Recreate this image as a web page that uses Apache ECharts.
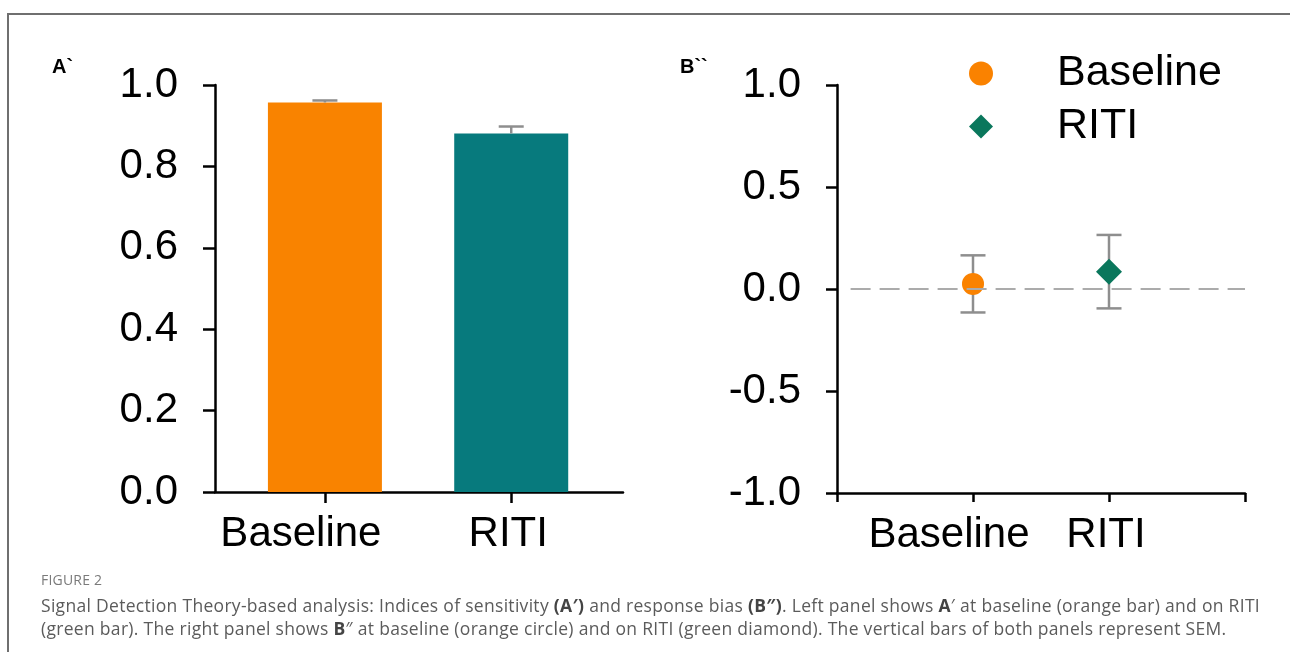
<!DOCTYPE html>
<html>
<head>
<meta charset="utf-8">
<script src="https://cdn.jsdelivr.net/npm/echarts@6/dist/echarts.min.js"></script>
<style>
html, body { margin: 0; padding: 0; background: #fff; }
#frame { position: absolute; left: 7px; top: 13px; width: 1290px; height: 637px;
         border-top: 2px solid #6f6f6f; border-left: 2px solid #6f6f6f; }
#chart { position: absolute; left: 0; top: 0; width: 1290px; height: 655px; }
#cap { position: absolute; left: 41px; top: 568px; font-family: "Open Sans", Lato, sans-serif;
       color: #5b5b5b; font-size: 17.5px; letter-spacing: 0.3px; line-height: 23px; white-space: nowrap; }
#cap .fig { font-size: 14px; color: #7a7a7a; letter-spacing: 0.2px; margin-bottom: 3px; }
#cap b { color: #444; }
</style>
</head>
<body>
<div id="frame"></div>
<div id="chart"></div>
<div id="cap">
  <div class="fig">FIGURE 2</div>
  <div>Signal Detection Theory-based analysis: Indices of sensitivity <b>(A′)</b> and response bias <b>(B″)</b>. Left panel shows <b>A</b>′ at baseline (orange bar) and on RITI</div>
  <div>(green bar). The right panel shows <b>B</b>″ at baseline (orange circle) and on RITI (green diamond). The vertical bars of both panels represent SEM.</div>
</div>
<script>
var categories = ['Baseline', 'RITI'];
// panel A' : sensitivity (bars + SEM)
var sensMean = [0.957, 0.881];
var sensSem = [0.005, 0.017];
var sensTicks = [0, 0.2, 0.4, 0.6, 0.8, 1.0];
// panel B'' : response bias (points + SEM)
var biasMean = [0.025, 0.085];
var biasSem = [0.14, 0.18];
var biasTicks = [-1.0, -0.5, 0, 0.5, 1.0];

var barColors = ['#f98300', '#077a7d'];
var pointColors = ['#fa8200', '#0a775c'];
var symbols = ['circle', 'diamond'];
var axisFont = '"Liberation Sans", Arial, sans-serif';
var errColor = '#8e8e8e';

var chart = echarts.init(document.getElementById('chart'));

function errorBar(bothSides) {
	return function (params, api) {
		var x = api.value(0);
		var lo = api.coord([x, api.value(1)]);
		var hi = api.coord([x, api.value(2)]);
		var st = { stroke: errColor, lineWidth: 2.5 };
		var kids = [
			{ type: 'line', shape: { x1: hi[0], y1: hi[1], x2: lo[0], y2: lo[1] }, style: st },
			{ type: 'line', shape: { x1: hi[0] - 12.5, y1: hi[1], x2: hi[0] + 12.5, y2: hi[1] }, style: st }
		];
		if (bothSides) {
			kids.push({ type: 'line', shape: { x1: lo[0] - 12.5, y1: lo[1], x2: lo[0] + 12.5, y2: lo[1] }, style: st });
		}
		return { type: 'group', children: kids };
	};
}

function catLabel(v) {
	var i = Math.round(v) - 1;
	return '{c' + i + '|' + categories[i] + '}';
}
var catRich = {
	c0: { fontSize: 42, fontFamily: axisFont, color: '#000', padding: [0, 48, 0, 0] },
	c1: { fontSize: 42, fontFamily: axisFont, color: '#000', padding: [0, 6, 0, 0] }
};

var axisLineStyle = { color: '#000', width: 2.5 };

var sensBars = sensMean.map(function (m, i) {
	return { value: [i + 1, m], itemStyle: { color: barColors[i] } };
});
var sensErr = sensMean.map(function (m, i) { return [i + 1, m, m + sensSem[i]]; });
var biasErr = biasMean.map(function (m, i) { return [i + 1, m - biasSem[i], m + biasSem[i]]; });

var pointSeries = categories.map(function (name, i) {
	return {
		name: name,
		type: 'scatter',
		xAxisIndex: 1,
		yAxisIndex: 1,
		symbol: symbols[i],
		symbolSize: i === 0 ? 22 : 26,
		itemStyle: { color: pointColors[i], opacity: 1 },
		z: 5,
		data: [[i + 1, biasMean[i]]]
	};
});
pointSeries[0].markLine = {
	silent: true,
	symbol: 'none',
	label: { show: false },
	lineStyle: { type: [20, 9], color: '#ababab', width: 2 },
	data: [[{ coord: [0.1, 0] }, { coord: [3, 0] }]],
	z: 6
};

var option = {
	animation: false,
	textStyle: { fontFamily: axisFont },
	grid: [
		{ left: 215, top: 85, width: 408, height: 407 },
		{ left: 837, top: 85, width: 408, height: 408 }
	],
	legend: {
		data: [
			{ name: categories[0], icon: 'circle' },
			{ name: categories[1], icon: 'diamond' }
		],
		orient: 'vertical',
		left: 964,
		top: 47,
		itemWidth: 24,
		itemHeight: 24,
		itemGap: 10,
		selectedMode: false,
		formatter: function (name) { return '{t|' + name + '}'; },
		textStyle: {
			rich: { t: { fontSize: 43, fontFamily: axisFont, color: '#000', lineHeight: 44, padding: [0, 0, 0, 59] } }
		}
	},
	xAxis: [
		{
			type: 'value', gridIndex: 0, min: 0.41, max: 2.6,
			axisLine: { onZero: false, lineStyle: axisLineStyle },
			axisTick: { show: true, customValues: [1, 2], length: 11, lineStyle: axisLineStyle },
			axisLabel: { customValues: [1, 2], formatter: catLabel, rich: catRich, margin: 21 },
			splitLine: { show: false }
		},
		{
			type: 'value', gridIndex: 1, min: 0, max: 3, interval: 1,
			axisLine: { onZero: false, lineStyle: axisLineStyle },
			axisTick: { show: true, customValues: [0, 1, 2, 3], length: 9, lineStyle: axisLineStyle },
			axisLabel: { customValues: [1, 2], formatter: catLabel, rich: catRich, margin: 21 },
			splitLine: { show: false }
		}
	],
	yAxis: [
		{
			type: 'value', gridIndex: 0,
			min: sensTicks[0], max: sensTicks[sensTicks.length - 1], interval: sensTicks[1] - sensTicks[0],
			axisLine: { show: true, onZero: false, lineStyle: axisLineStyle },
			axisTick: { show: true, length: 12, lineStyle: axisLineStyle },
			axisLabel: { fontSize: 42, color: '#000', margin: 37, formatter: function (v) { return v.toFixed(1); } },
			splitLine: { show: false }
		},
		{
			type: 'value', gridIndex: 1,
			min: biasTicks[0], max: biasTicks[biasTicks.length - 1], interval: biasTicks[1] - biasTicks[0],
			axisLine: { show: true, onZero: false, lineStyle: axisLineStyle },
			axisTick: { show: true, length: 11, lineStyle: axisLineStyle },
			axisLabel: { fontSize: 42, color: '#000', margin: 36, formatter: function (v) { return v.toFixed(1); } },
			splitLine: { show: false }
		}
	],
	graphic: [
		{ type: 'text', left: 52, top: 57, style: { text: 'A`', font: 'bold 20px "Liberation Sans", Arial', fill: '#000' } },
		{ type: 'text', left: 680, top: 57, style: { text: 'B``', font: 'bold 20px "Liberation Sans", Arial', fill: '#000' } }
	],
	series: [
		{
			name: 'A′',
			type: 'bar',
			xAxisIndex: 0,
			yAxisIndex: 0,
			barWidth: 114,
			data: sensBars
		},
		{
			type: 'custom',
			xAxisIndex: 0,
			yAxisIndex: 0,
			renderItem: errorBar(false),
			encode: { x: 0, y: [1, 2] },
			z: 4,
			data: sensErr
		},
		{
			type: 'custom',
			xAxisIndex: 1,
			yAxisIndex: 1,
			renderItem: errorBar(true),
			encode: { x: 0, y: [1, 2] },
			z: 3,
			data: biasErr
		}
	].concat(pointSeries)
};

chart.setOption(option);
</script>
</body>
</html>
